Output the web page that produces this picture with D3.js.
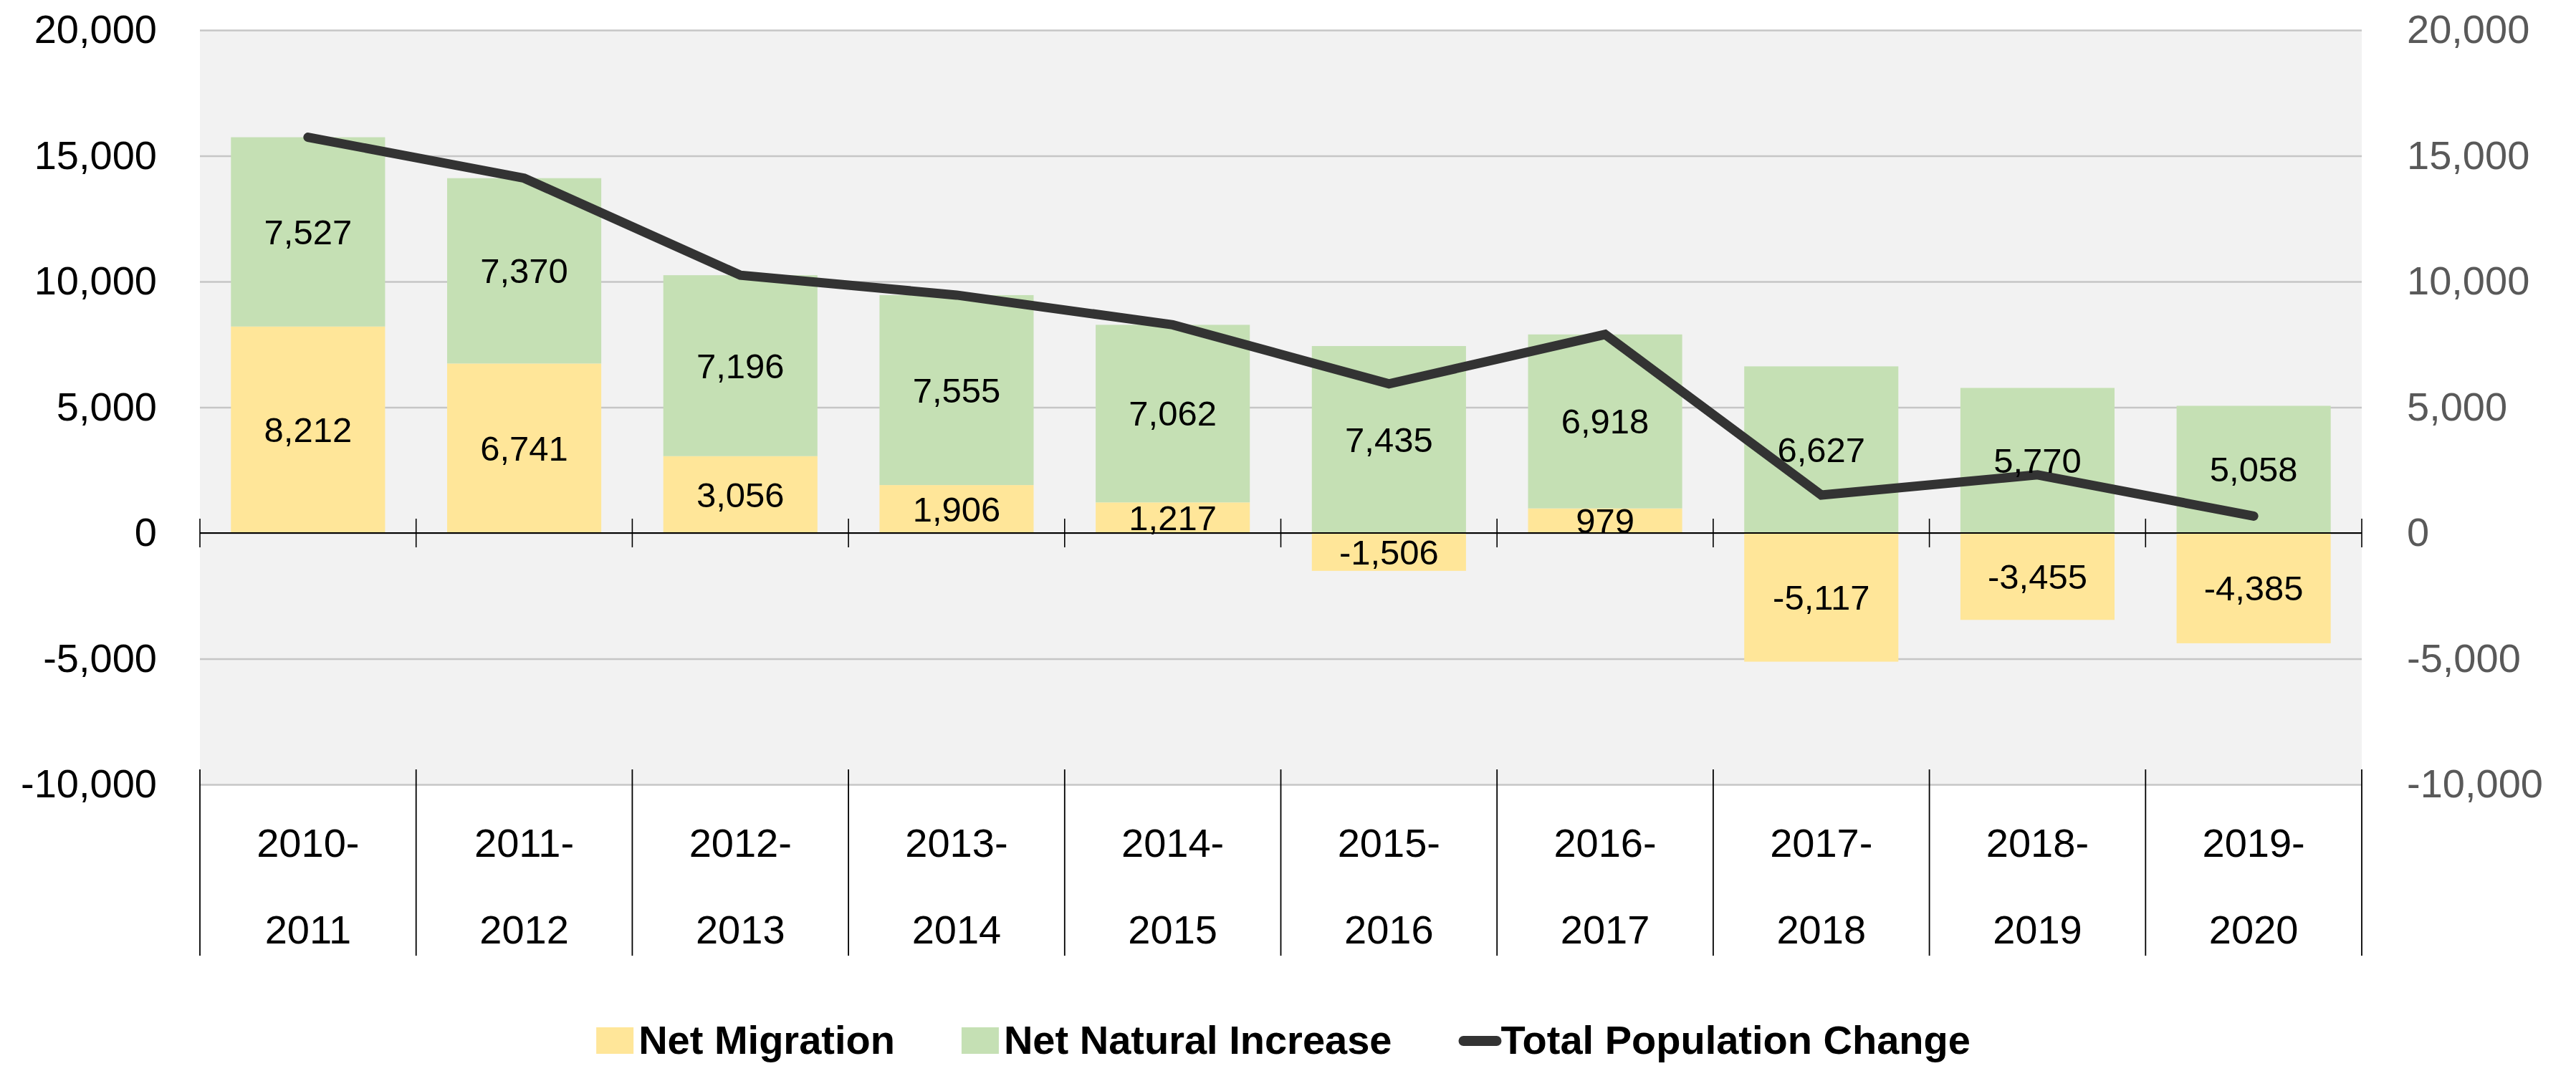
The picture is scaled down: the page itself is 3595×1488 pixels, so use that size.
<!DOCTYPE html>
<html>
<head>
<meta charset="utf-8">
<script src="https://cdn.jsdelivr.net/npm/d3@7"></script>
<style>
  body { margin: 0; background: #fff; }
  text { font-family: "Liberation Sans", Arial, sans-serif; }
</style>
</head>
<body>
<script>
// Data
const categories = ["2010-2011", "2011-2012", "2012-2013", "2013-2014", "2014-2015",
                    "2015-2016", "2016-2017", "2017-2018", "2018-2019", "2019-2020"];
const netMigration = [8212, 6741, 3056, 1906, 1217, -1506, 979, -5117, -3455, -4385];
const netNatural = [7527, 7370, 7196, 7555, 7062, 7435, 6918, 6627, 5770, 5058];
const totalChange = [15739, 14111, 10252, 9461, 8279, 5929, 7897, 1510, 2315, 673];
const yTicks = [-10000, -5000, 0, 5000, 10000, 15000, 20000];

// Layout
const W = 3595, H = 1488;
const plot = { left: 279, right: 3296, top: 42, bottom: 1095 };
const pad = 0.287;
const colors = { migration: "#FFE699", natural: "#C5E0B4", total: "#333333" };

const svg = d3.select("body").append("svg")
  .attr("width", W).attr("height", H);

const x = d3.scaleBand()
  .domain(categories)
  .range([plot.left, plot.right])
  .paddingInner(pad)
  .paddingOuter(pad / 2);

const y = d3.scaleLinear()
  .domain([-10000, 20000])
  .range([plot.bottom, plot.top]);

// plain hyphen for negatives, as in the original
const comma = d3.format(",");
const fmt = v => comma(v).replace("\u2212", "-");

// plot background
svg.append("rect")
  .attr("x", plot.left).attr("y", plot.top)
  .attr("width", plot.right - plot.left).attr("height", plot.bottom - plot.top)
  .attr("fill", "#F2F2F2");

// gridlines
const grid = svg.append("g")
  .attr("transform", `translate(${plot.left},0)`)
  .call(d3.axisLeft(y).tickValues(yTicks).tickSize(-(plot.right - plot.left)).tickFormat(""));
grid.select(".domain").remove();
grid.selectAll("line").attr("stroke", "#C6C6C6").attr("stroke-width", 2.5);

// left axis labels
const leftAxis = svg.append("g")
  .attr("transform", `translate(${plot.left - 60},0)`)
  .call(d3.axisLeft(y).tickValues(yTicks).tickSize(0).tickPadding(0).tickFormat(fmt));
leftAxis.select(".domain").remove();
leftAxis.selectAll("text")
  .attr("font-size", 56).attr("fill", "#000")
  .style("font-family", '"Liberation Sans", Arial, sans-serif');

// right axis labels
const rightAxis = svg.append("g")
  .attr("transform", `translate(${plot.right + 63},0)`)
  .call(d3.axisRight(y).tickValues(yTicks).tickSize(0).tickPadding(0).tickFormat(fmt));
rightAxis.select(".domain").remove();
rightAxis.selectAll("text")
  .attr("font-size", 56).attr("fill", "#595959")
  .style("font-family", '"Liberation Sans", Arial, sans-serif');

// stacked bars
const rows = categories.map((c, i) => ({ cat: c, migration: netMigration[i], natural: netNatural[i] }));
const series = d3.stack()
  .keys(["migration", "natural"])
  .offset(d3.stackOffsetDiverging)(rows);

const barLayer = svg.append("g");
series.forEach(s => {
  barLayer.selectAll(null)
    .data(s)
    .enter()
    .append("rect")
    .attr("x", d => x(d.data.cat))
    .attr("width", x.bandwidth())
    .attr("y", d => y(Math.max(d[0], d[1])))
    .attr("height", d => Math.abs(y(d[0]) - y(d[1])))
    .attr("fill", colors[s.key]);
});

// category axis at zero
const boundaries = d3.range(categories.length + 1).map(i => plot.left + i * x.step());
const axisLayer = svg.append("g");
axisLayer.append("line")
  .attr("x1", plot.left).attr("x2", plot.right)
  .attr("y1", y(0)).attr("y2", y(0))
  .attr("stroke", "#000").attr("stroke-width", 2.2);
axisLayer.selectAll(".tick0")
  .data(boundaries)
  .enter()
  .append("line")
  .attr("x1", d => d).attr("x2", d => d)
  .attr("y1", y(0) - 20).attr("y2", y(0) + 20)
  .attr("stroke", "#000").attr("stroke-width", 1.6);

// label separators at the bottom
axisLayer.selectAll(".sep")
  .data(boundaries)
  .enter()
  .append("line")
  .attr("x1", d => d).attr("x2", d => d)
  .attr("y1", plot.bottom - 21).attr("y2", 1334)
  .attr("stroke", "#000").attr("stroke-width", 1.8);

// category labels, two lines
const catLabels = svg.append("g").selectAll("text")
  .data(categories)
  .enter()
  .append("text")
  .attr("text-anchor", "middle")
  .attr("font-size", 56)
  .attr("fill", "#000");
catLabels.append("tspan")
  .attr("x", d => x(d) + x.bandwidth() / 2)
  .attr("y", 1196)
  .text(d => d.split("-")[0] + "-");
catLabels.append("tspan")
  .attr("x", d => x(d) + x.bandwidth() / 2)
  .attr("y", 1317)
  .text(d => d.split("-")[1]);

// total line
const line = d3.line()
  .x((d, i) => x(categories[i]) + x.bandwidth() / 2)
  .y(d => y(d));
svg.append("path")
  .datum(totalChange)
  .attr("d", line)
  .attr("fill", "none")
  .attr("stroke", colors.total)
  .attr("stroke-width", 13)
  .attr("stroke-linecap", "round")
  .attr("stroke-linejoin", "miter");

// data labels centred in each segment
const labelLayer = svg.append("g");
series.forEach(s => {
  labelLayer.selectAll(null)
    .data(s)
    .enter()
    .append("text")
    .attr("x", d => x(d.data.cat) + x.bandwidth() / 2)
    .attr("y", d => y((d[0] + d[1]) / 2))
    .attr("dy", "0.35em")
    .attr("text-anchor", "middle")
    .attr("font-size", 49)
    .attr("fill", "#000")
    .text(d => fmt(d.data[s.key]));
});

// legend
const legendItems = [
  { name: "Net Migration", type: "rect", color: colors.migration },
  { name: "Net Natural Increase", type: "rect", color: colors.natural },
  { name: "Total Population Change", type: "line", color: colors.total }
];
const legend = svg.append("g");
const base = 1471, swW = 52, swGap = 7, itemGap = 93;
const items = legend.selectAll("g")
  .data(legendItems)
  .enter()
  .append("g");
items.append("text")
  .attr("x", swW + swGap)
  .attr("y", base)
  .attr("font-size", 56)
  .attr("font-weight", "bold")
  .attr("fill", "#000")
  .text(d => d.name);
items.each(function (d) {
  const g = d3.select(this);
  if (d.type === "rect") {
    g.append("rect").attr("x", 0).attr("y", base - 37).attr("width", swW).attr("height", 37).attr("fill", d.color);
  } else {
    g.append("line").attr("x1", 7).attr("x2", swW + swGap - 6).attr("y1", base - 18).attr("y2", base - 18)
      .attr("stroke", d.color).attr("stroke-width", 14).attr("stroke-linecap", "round");
  }
});
const widths = [];
items.each(function () { widths.push(this.getBBox().width); });
const totalW = d3.sum(widths) + itemGap * (widths.length - 1);
let cursor = (plot.left + plot.right) / 2 - totalW / 2;
items.attr("transform", (d, i) => {
  const t = `translate(${cursor},0)`;
  cursor += widths[i] + itemGap;
  return t;
});
</script>
</body>
</html>
